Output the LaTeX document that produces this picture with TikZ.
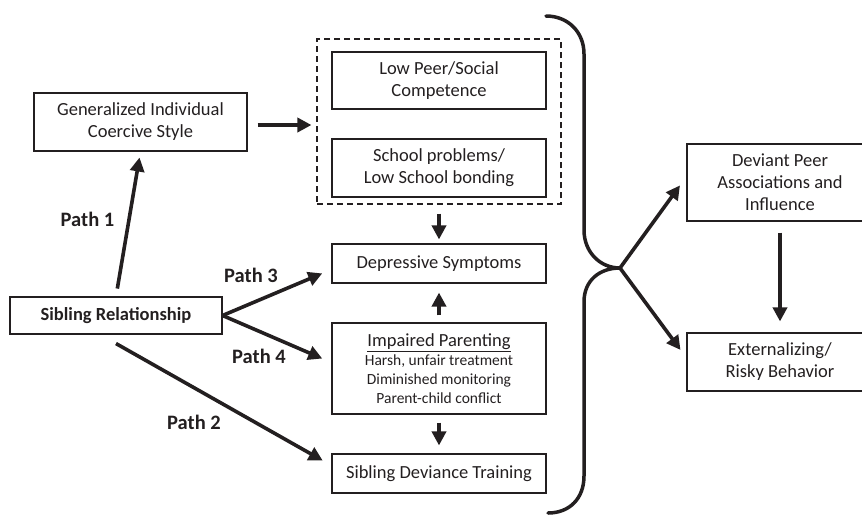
\documentclass[tikz,border=0pt]{standalone}
\usepackage{fontspec}
\setmainfont{Carlito}
\usetikzlibrary{arrows.meta}
\definecolor{ink}{HTML}{231F20}
\tikzstyle{box}=[draw=ink,line width=1.1pt,text=ink,align=center,inner sep=0pt,
  font=\fontsize{18.5}{22}\selectfont]
\tikzstyle{group}=[draw=ink,line width=1.1pt,dash pattern=on 6pt off 4pt,inner sep=0pt]
\tikzstyle{pathlbl}=[text=ink,inner sep=0pt,font=\bfseries\fontsize{20.5}{24}\selectfont]
\tikzstyle{flow}=[draw=ink,line width=3.6pt,-{Triangle[length=14pt,width=14pt]}]
\tikzstyle{brace}=[draw=ink,line width=3.5pt,line cap=round]
\newcommand{\detail}{\fontsize{15.5}{19}\selectfont}

\begin{document}
\begin{tikzpicture}[x=1pt,y=-1pt]
  \useasboundingbox (0,0) rectangle (862,515);

  % LEFT COLUMN
  \node[box,minimum width=212pt,minimum height=37pt,font=\bfseries\fontsize{18.5}{22}\selectfont]
    (sib) at (116,315.5) {Sibling Relationship};
  \node[box,minimum width=213pt,minimum height=58pt]
    (gen) at (140.5,122) {Generalized Individual\\Coercive Style};

  % MIDDLE COLUMN
  \node[group,minimum width=244pt,minimum height=165pt] (grp) at (439,121.5) {};
  \node[box,minimum width=214pt,minimum height=57pt]
    (peer) at (439,80.5) {Low Peer/Social\\Competence};
  \node[box,minimum width=214pt,minimum height=58pt]
    (school) at (439,168) {School problems/\\Low School bonding};
  \node[box,minimum width=214pt,minimum height=39pt]
    (dep) at (439,263.5) {Depressive Symptoms};
  \node[box,minimum width=214pt,minimum height=91pt]
    (imp) at (439,368.5) {\underline{Impaired Parenting}\\[-3pt]
      \detail Harsh, unfair treatment\\[-3pt] \detail Diminished monitoring\\[-3pt]
      \detail Parent-child conflict};
  \node[box,minimum width=214pt,minimum height=39pt]
    (sdt) at (439,473.5) {Sibling Deviance Training};

  % RIGHT COLUMN
  \node[box,minimum width=186pt,minimum height=77pt]
    (dpa) at (780,182.5) {Deviant Peer\\Associations and\\Influence};
  \node[box,minimum width=186pt,minimum height=58pt]
    (ext) at (780,362) {Externalizing/\\Risky Behavior};

  % BRACE
  \coordinate (cusp) at (620,268);
  \draw[brace] (546,16) .. controls (568,16) and (584,32) .. (584,54)
    -- (584,230) .. controls (584,252) and (600,268) .. (cusp)
    .. controls (600,268) and (584,280) .. (584,302)
    -- (584,476) .. controls (584,498) and (570,513) .. (548,513);

  % PATHS
  \draw[flow,shorten <=8pt,shorten >=6pt] (sib.north) -- (gen.south);
  \draw[flow,shorten >=10pt] (sib.east) -- ([yshift=-6pt]dep.west);
  \draw[flow,shorten >=10pt] (sib.east) -- ([yshift=6pt]imp.west);
  \draw[flow,shorten >=10pt] ([yshift=-9pt]sib.south) -- ([yshift=8pt]sdt.west);
  \node[pathlbl] (p1) at (87.5,219) {Path 1};
  \node[pathlbl] (p3) at (251,275) {Path 3};
  \node[pathlbl] (p4) at (259,356) {Path 4};
  \node[pathlbl] (p2) at (194,422) {Path 2};

  % OTHER ARROWS
  \draw[flow,shorten <=10pt,shorten >=5pt]
    ([yshift=-3pt]gen.east) -- ([yshift=-3pt]gen.east -| grp.west);
  \draw[flow,shorten <=9pt,shorten >=4pt] (grp.south) -- (dep.north);
  \draw[flow,shorten <=7pt,shorten >=9pt] (imp.north) -- (dep.south);
  \draw[flow,shorten <=8pt,shorten >=8pt] (imp.south) -- (sdt.north);
  \draw[flow,shorten >=11pt] (cusp) -- ([yshift=6pt]dpa.west);
  \draw[flow,shorten >=10pt] (cusp) -- ([yshift=4pt]ext.west);
  \draw[flow,shorten <=11pt,shorten >=11pt] (dpa.south) -- (ext.north);

\end{tikzpicture}
\end{document}
